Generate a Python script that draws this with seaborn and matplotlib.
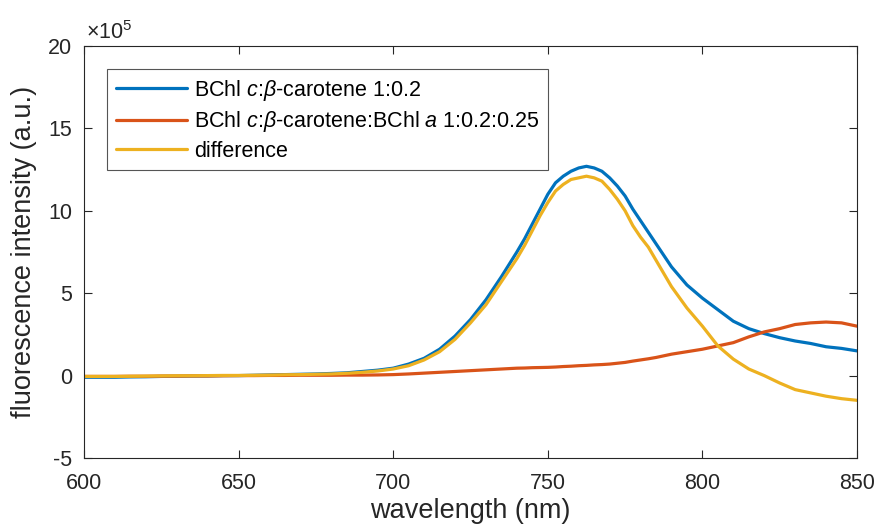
import matplotlib
matplotlib.use("Agg")
import matplotlib.pyplot as plt
import numpy as np
import pandas as pd
import seaborn as sns

# wavelength grid (nm): 5 nm steps, 2.5 nm around the emission peak
wavelength = np.concatenate([np.arange(600, 736, 5),
                             np.arange(740, 791, 2.5),
                             np.arange(795, 851, 5)])

# intensities in units of 1e5 (a.u.)
carotene = [-0.10, -0.10, -0.10, -0.08, -0.07, -0.05, -0.04, -0.03, -0.02, 0.00,
            0.00, 0.02, 0.04, 0.06, 0.08, 0.10, 0.13, 0.17, 0.25, 0.33,
            0.45, 0.70, 1.05, 1.60, 2.40, 3.40, 4.60, 6.00,
            7.5, 8.3, 9.2, 10.1, 11.0, 11.7, 12.1, 12.4, 12.6, 12.7,
            12.6, 12.4, 12.0, 11.5, 10.9, 10.1, 9.4, 8.7, 8.0, 7.3, 6.6,
            5.5, 4.7, 4.0, 3.3, 2.85, 2.55, 2.3, 2.1, 1.95, 1.75, 1.65, 1.5]

carotene_bchla = [-0.05, -0.05, -0.05, -0.04, -0.04, -0.03, -0.03, -0.02, -0.02, -0.01,
                  0.00, 0.00, 0.01, 0.01, 0.02, 0.02, 0.02, 0.03, 0.03, 0.04,
                  0.06, 0.10, 0.15, 0.20, 0.25, 0.30, 0.35, 0.40,
                  0.45, 0.46, 0.48, 0.49, 0.50, 0.52, 0.55, 0.57, 0.60, 0.62,
                  0.65, 0.67, 0.70, 0.75, 0.80, 0.88, 0.95, 1.02, 1.10, 1.20, 1.30,
                  1.45, 1.6, 1.8, 2.0, 2.35, 2.65, 2.85, 3.1, 3.2, 3.25, 3.2, 3.0]

difference = [-0.05, -0.05, -0.05, -0.04, -0.03, -0.02, -0.01, -0.01, 0.00, 0.01,
              0.01, 0.02, 0.03, 0.05, 0.06, 0.08, 0.10, 0.14, 0.20, 0.28,
              0.40, 0.60, 0.95, 1.45, 2.20, 3.20, 4.30, 5.70,
              7.1, 7.9, 8.8, 9.7, 10.5, 11.2, 11.6, 11.9, 12.0, 12.1,
              12.0, 11.8, 11.3, 10.7, 10.0, 9.1, 8.4, 7.8, 7.0, 6.2, 5.4,
              4.1, 3.0, 1.8, 1.0, 0.4, 0.0, -0.45, -0.85, -1.05, -1.25, -1.4, -1.5]

labels = [r"BChl $c$:$\beta$-carotene 1:0.2",
          r"BChl $c$:$\beta$-carotene:BChl $a$ 1:0.2:0.25",
          "difference"]
colors = ["#0072BD", "#D95319", "#EDB120"]

sns.set_style("ticks")
plt.rcParams["font.family"] = ["Liberation Sans", "DejaVu Sans"]
plt.rcParams["mathtext.fontset"] = "custom"
plt.rcParams["mathtext.rm"] = "Liberation Sans"
plt.rcParams["mathtext.it"] = "Liberation Sans:italic"
plt.rcParams["axes.unicode_minus"] = False
ink = "#262626"

fig = plt.figure(figsize=(8.78, 5.31), dpi=100)
# axes box: x 84..857 px, y 46..458 px
ax = fig.add_axes([84 / 878, 1 - 458 / 531, 773 / 878, 412 / 531])

for series, lab, col in zip([carotene, carotene_bchla, difference], labels, colors):
    df = pd.DataFrame({"wavelength": wavelength, "value": series})
    sns.lineplot(data=df, x="wavelength", y="value", ax=ax, color=col,
                 linewidth=2.3, label=lab)

ax.set_xlim(600, 850)
ax.set_ylim(-5, 20)
ax.set_xticks(np.arange(600, 851, 50))
ax.set_yticks(np.arange(-5, 21, 5))
ax.tick_params(direction="in", top=True, right=True, length=5.5, width=0.8,
               labelsize=15.5, colors=ink)
ax.tick_params(axis="x", pad=10.5)
ax.tick_params(axis="y", pad=8.5)
for sp in ax.spines.values():
    sp.set_color(ink)
    sp.set_linewidth(0.8)

ax.set_xlabel("wavelength (nm)", fontsize=19.5, color=ink, labelpad=3)
ax.set_ylabel("fluorescence intensity (a.u.)", fontsize=19.5, color=ink, labelpad=8)
ax.text(2 / 773, 1 + 7 / 412, r"$\times10^{5}$", transform=ax.transAxes,
        fontsize=15.5, color=ink, ha="left", va="baseline")

leg = ax.legend(loc="upper left", bbox_to_anchor=(23 / 773, 1 - 23 / 412),
                borderaxespad=0, fontsize=15.5,
                frameon=True, fancybox=False, framealpha=1, edgecolor="#555555",
                handlelength=3.3, borderpad=0.4, labelspacing=0.3,
                handletextpad=0.35)
leg.get_frame().set_linewidth(0.8)
for t in leg.get_texts():
    t.set_color("black")

fig.savefig("out.png", dpi=100)
